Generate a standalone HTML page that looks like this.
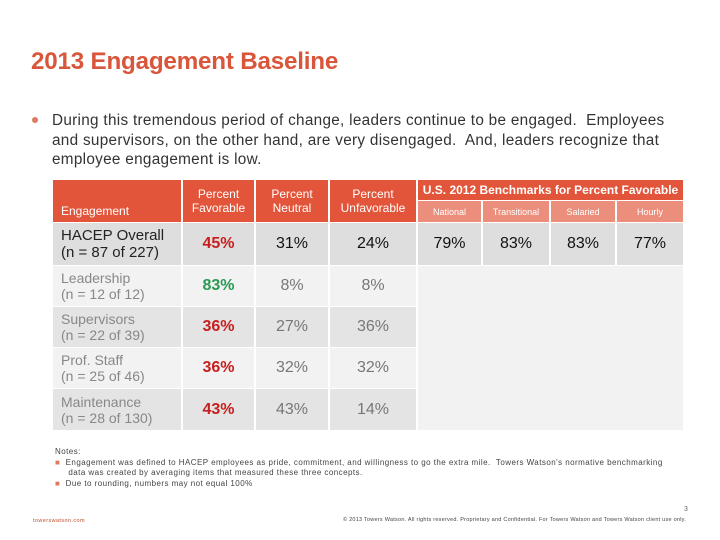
<!DOCTYPE html>
<html><head><meta charset="utf-8"><style>
body{margin:0;width:720px;height:540px;background:#fff;position:relative;overflow:hidden;font-family:"Liberation Sans",Arial,sans-serif;}
.a{position:absolute;}
.c{position:absolute;box-sizing:border-box;display:flex;align-items:center;justify-content:center;text-align:center;}
.h{background:#e2553a;color:#fff;font-size:12px;line-height:14px;}
.s{background:#eb8f7c;color:#fff;font-size:9px;}
.l{justify-content:flex-start;padding-left:8px;text-align:left;}
.v{font-size:16px;color:#777;}
.b{font-size:16px;font-weight:bold;}
</style></head><body>
<div class="a" style="left:31px;top:48px;font-size:24.2px;font-weight:bold;color:#d9563a;letter-spacing:-0.2px;">2013 Engagement Baseline</div>
<div class="a" style="left:32px;top:117px;width:6px;height:6px;border-radius:3px;background:#e07a5f;"></div>
<div class="a" style="left:52px;top:111px;width:660px;font-size:15.3px;line-height:19.5px;color:#333;letter-spacing:0.3px;white-space:nowrap;">During this tremendous period of change, leaders continue to be engaged.&nbsp; Employees<br>and supervisors, on the other hand, are very disengaged.&nbsp; And, leaders recognize that<br>employee engagement is low.</div>

<div>
<div class="c h l" style="left:53px;top:180px;width:128px;height:42px;align-items:flex-end;padding-bottom:4px;">Engagement</div>
<div class="c h" style="left:183px;top:180px;width:71px;height:42px;">Percent<br>Favorable</div>
<div class="c h" style="left:256px;top:180px;width:72px;height:42px;">Percent<br>Neutral</div>
<div class="c h" style="left:330px;top:180px;width:86px;height:42px;">Percent<br>Unfavorable</div>
<div class="c h" style="left:418px;top:180px;width:265px;height:20px;font-weight:bold;">U.S. 2012 Benchmarks for Percent Favorable</div>
<div class="c s" style="left:418px;top:201px;width:63px;height:21px;">National</div>
<div class="c s" style="left:483px;top:201px;width:66px;height:21px;">Transitional</div>
<div class="c s" style="left:551px;top:201px;width:64px;height:21px;">Salaried</div>
<div class="c s" style="left:617px;top:201px;width:66px;height:21px;">Hourly</div>

<div class="c l" style="left:53px;top:223px;width:128px;height:42px;background:#dedede;font-size:15px;color:#222;">HACEP Overall<br>(n = 87 of 227)</div>
<div class="c b" style="left:183px;top:223px;width:71px;height:42px;background:#dedede;color:#c81e1e;">45%</div>
<div class="c v" style="left:256px;top:223px;width:72px;height:42px;background:#dedede;color:#111;">31%</div>
<div class="c v" style="left:330px;top:223px;width:86px;height:42px;background:#dedede;color:#111;">24%</div>
<div class="c v" style="left:418px;top:223px;width:63px;height:42px;background:#dedede;color:#111;">79%</div>
<div class="c v" style="left:483px;top:223px;width:66px;height:42px;background:#dedede;color:#111;">83%</div>
<div class="c v" style="left:551px;top:223px;width:64px;height:42px;background:#dedede;color:#111;">83%</div>
<div class="c v" style="left:617px;top:223px;width:66px;height:42px;background:#dedede;color:#111;">77%</div>

<div class="a" style="left:418px;top:266px;width:265px;height:164px;background:#f2f2f2;"></div>

<div class="c l" style="left:53px;top:266px;width:128px;height:40px;background:#f2f2f2;font-size:14px;color:#888;">Leadership<br>(n = 12 of 12)</div>
<div class="c b" style="left:183px;top:266px;width:71px;height:40px;background:#f2f2f2;color:#2a9a52;">83%</div>
<div class="c v" style="left:256px;top:266px;width:72px;height:40px;background:#f2f2f2;">8%</div>
<div class="c v" style="left:330px;top:266px;width:86px;height:40px;background:#f2f2f2;">8%</div>

<div class="c l" style="left:53px;top:307px;width:128px;height:40px;background:#e4e4e4;font-size:14px;color:#888;">Supervisors<br>(n = 22 of 39)</div>
<div class="c b" style="left:183px;top:307px;width:71px;height:40px;background:#e4e4e4;color:#c81e1e;">36%</div>
<div class="c v" style="left:256px;top:307px;width:72px;height:40px;background:#e4e4e4;">27%</div>
<div class="c v" style="left:330px;top:307px;width:86px;height:40px;background:#e4e4e4;">36%</div>

<div class="c l" style="left:53px;top:348px;width:128px;height:40px;background:#f2f2f2;font-size:14px;color:#888;">Prof. Staff<br>(n = 25 of 46)</div>
<div class="c b" style="left:183px;top:348px;width:71px;height:40px;background:#f2f2f2;color:#c81e1e;">36%</div>
<div class="c v" style="left:256px;top:348px;width:72px;height:40px;background:#f2f2f2;">32%</div>
<div class="c v" style="left:330px;top:348px;width:86px;height:40px;background:#f2f2f2;">32%</div>

<div class="c l" style="left:53px;top:389px;width:128px;height:41px;background:#e4e4e4;font-size:14px;color:#888;">Maintenance<br>(n = 28 of 130)</div>
<div class="c b" style="left:183px;top:389px;width:71px;height:41px;background:#e4e4e4;color:#c81e1e;">43%</div>
<div class="c v" style="left:256px;top:389px;width:72px;height:41px;background:#e4e4e4;">43%</div>
<div class="c v" style="left:330px;top:389px;width:86px;height:41px;background:#e4e4e4;">14%</div>
</div>

<div class="a" style="left:55px;top:447px;width:640px;font-size:8px;line-height:10.5px;color:#444;letter-spacing:0.45px;white-space:nowrap;">Notes:<br>
<span style="color:#e07a5f">&#9632;</span>&nbsp; Engagement was defined to HACEP employees as pride, commitment, and willingness to go the extra mile.&nbsp; Towers Watson's normative benchmarking<br>&nbsp;&nbsp;&nbsp;&nbsp; data was created by averaging items that measured these three concepts.<br>
<span style="color:#e07a5f">&#9632;</span>&nbsp; Due to rounding, numbers may not equal 100%</div>
<div class="a" style="left:684px;top:506px;font-size:7px;color:#666;">3</div>
<div class="a" style="left:33px;top:518px;font-size:5.5px;color:#c0502f;letter-spacing:0.4px;">towerswatson.com</div>
<div class="a" style="left:343px;top:517px;font-size:5.5px;color:#444;letter-spacing:0.25px;white-space:nowrap;">© 2013 Towers Watson. All rights reserved. Proprietary and Confidential. For Towers Watson and Towers Watson client use only.</div>
</body></html>
